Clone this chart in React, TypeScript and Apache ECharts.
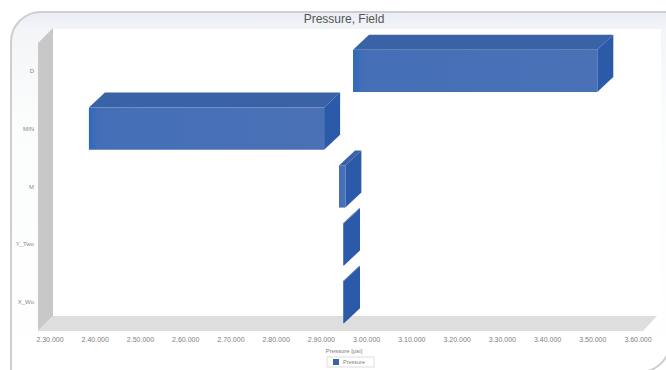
import React, { useEffect, useRef } from "react";
import * as echarts from "echarts";

const categories = ["D", "MIN", "M", "Y_Two", "X_Wo"];
const rangeStart = [297000, 238600, 293900, 294800, 294800];
const rangeEnd = [351000, 290600, 295300, 295000, 295000];
const xTickLabels = [
  "2.30.000", "2.40.000", "2.50.000", "2.60.000", "2.70.000", "2.80.000", "2.90.000",
  "3.00.000", "3.10.000", "3.20.000", "3.30.000", "3.40.000", "3.50.000", "3.60.000",
];
const seriesName = "Pressure";
const axisTitle = "Pressure [psi]";
const chartTitle = "Pressure, Field";

const FONT = "'Liberation Sans', Arial, sans-serif";
const DEPTH_X = 16;
const DEPTH_Y = 15;

// Extruded range bar: front face plus the top and right faces receding up and to the right.
function renderBar(params: any, api: any) {
  const row = api.value(2);
  const [x0, yc] = api.coord([api.value(0), row]);
  const [x1] = api.coord([api.value(1), row]);
  const band = api.size([0, 1])[1];
  const h = band * 0.73;
  const top = yc - h / 2;
  const bottom = yc + h / 2;
  const frontFill = new echarts.graphic.LinearGradient(0, 0, 1, 0, [
    { offset: 0, color: "#2f68bb" },
    { offset: 0.04, color: "#446fb6" },
    { offset: 1, color: "#4a71b6" },
  ]);
  return {
    type: "group",
    children: [
      {
        type: "polygon",
        shape: { points: [[x0, top], [x0 + DEPTH_X, top - DEPTH_Y], [x1 + DEPTH_X, top - DEPTH_Y], [x1, top]] },
        style: { fill: "#3a62a6" },
      },
      {
        type: "polygon",
        shape: { points: [[x1, top], [x1 + DEPTH_X, top - DEPTH_Y], [x1 + DEPTH_X, bottom - DEPTH_Y], [x1, bottom]] },
        style: { fill: "#2b5aa8" },
      },
      {
        type: "rect",
        shape: { x: x0, y: top, width: x1 - x0, height: h },
        style: { fill: frontFill },
      },
    ],
  };
}

export default function App() {
  const ref = useRef<HTMLDivElement>(null);

  useEffect(() => {
    document.body.style.margin = "0";
    const chart = echarts.init(ref.current!, undefined, { renderer: "svg" });
    chart.setOption({
      animation: false,
      backgroundColor: "#ffffff",
      textStyle: { fontFamily: FONT },
      title: {
        text: chartTitle,
        left: 344,
        top: 13,
        textAlign: "center",
        padding: 0,
        textStyle: { fontSize: 12, fontWeight: "normal", color: "#555555", fontFamily: FONT },
      },
      grid: { left: 50, right: 28, top: 42, bottom: 39 },
      xAxis: {
        type: "value",
        min: 230000,
        max: 360000,
        interval: 10000,
        axisLine: { show: false },
        axisTick: { show: false },
        splitLine: { show: false },
        axisLabel: {
          margin: 5,
          fontSize: 7,
          color: "#808080",
          formatter: (_: number, i: number) => xTickLabels[i],
          showMinLabel: true,
          showMaxLabel: true,
        },
        name: axisTitle,
        nameLocation: "middle",
        nameGap: 13,
        nameTextStyle: { fontSize: 6, color: "#808080" },
      },
      yAxis: {
        type: "category",
        inverse: true,
        data: categories,
        axisLine: { show: false },
        axisTick: { show: false },
        splitLine: { show: false },
        axisLabel: { margin: 16, fontSize: 6, color: "#888888" },
      },
      legend: {
        left: 327,
        top: 357,
        padding: [2, 9, 2, 6],
        borderColor: "#dddddd",
        borderWidth: 1,
        itemWidth: 6,
        itemHeight: 6,
        itemGap: 0,
        icon: "rect",
        textStyle: { fontSize: 5.5, color: "#808080", padding: [0, 0, 0, -1] },
        data: [seriesName],
      },
      graphic: {
        elements: [
          // Card with its pale header and side bands; the right edge runs off the page
          {
            type: "rect",
            shape: { x: 11, y: 12, width: 659, height: 360, r: [30, 0, 30, 0] },
            style: {
              fill: new echarts.graphic.LinearGradient(0, 0, 0, 1, [
                { offset: 0, color: "#e9eef4" },
                { offset: 0.05, color: "#f3f5f8" },
                { offset: 0.3, color: "#fbfcfc" },
                { offset: 1, color: "#ffffff" },
              ]),
              stroke: "#cfcfcf",
              lineWidth: 2,
            },
          },
          { type: "rect", shape: { x: 53, y: 29, width: 608, height: 287 }, style: { fill: "#ffffff" } },
          // Left wall of the 3D box
          { type: "polygon", shape: { points: [[38, 43], [53, 28], [53, 316], [38, 331]] }, style: { fill: "#c8c8c8" } },
          // Floor of the 3D box
          { type: "polygon", shape: { points: [[38, 331], [53, 316], [657, 316], [643, 331]] }, style: { fill: "#dedede" } },
        ],
      },
      series: [
        {
          type: "custom",
          name: seriesName,
          coordinateSystem: "cartesian2d",
          clip: false,
          itemStyle: { color: "#3a62a6" },
          renderItem: renderBar,
          encode: { x: [0, 1], y: 2 },
          data: categories.map((_, i) => [rangeStart[i], rangeEnd[i], i]),
        },
      ],
    });
    return () => chart.dispose();
  }, []);

  return <div ref={ref} style={{ width: 666, height: 370, position: "absolute", left: 0, top: 0 }} />;
}
